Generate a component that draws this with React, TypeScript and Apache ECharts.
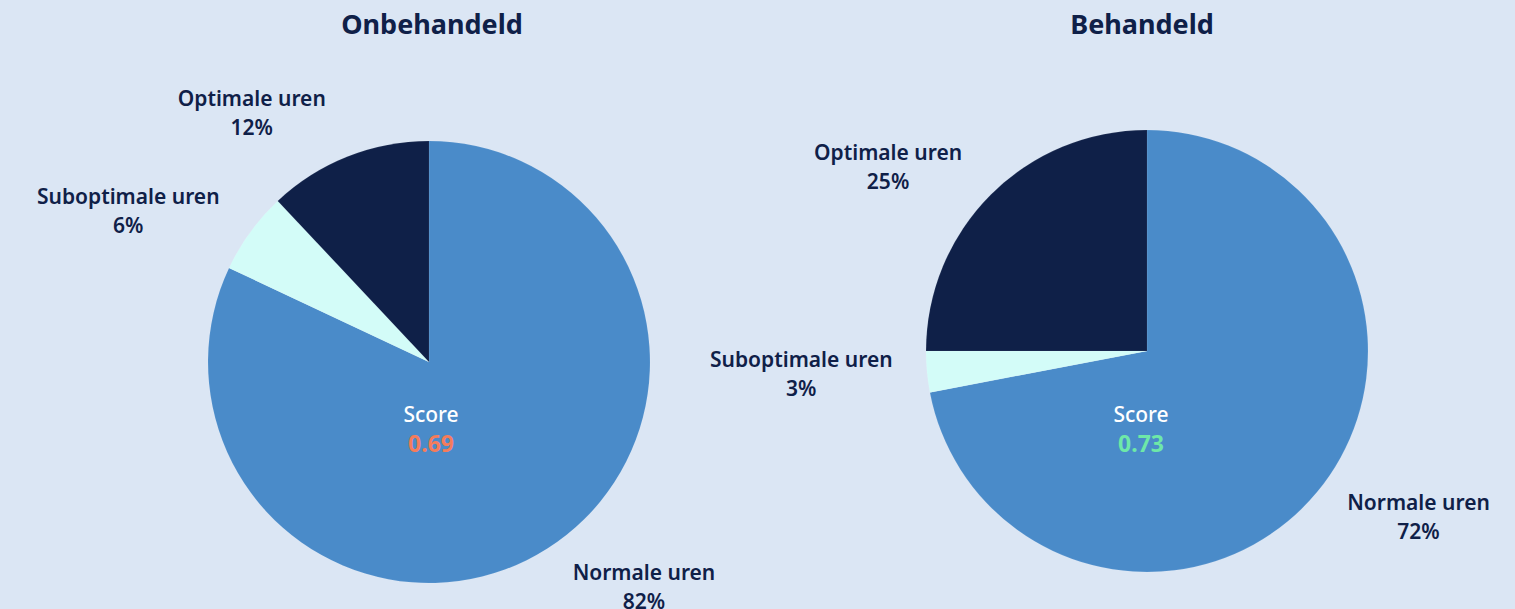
import React, { useEffect, useRef } from "react";
import * as echarts from "echarts";

const categories = ["Normale uren", "Suboptimale uren", "Optimale uren"];
const untreatedValues = [82, 6, 12];
const treatedValues = [72, 3, 25];
const chartTitles = ["Onbehandeld", "Behandeld"];
const scores = ["0.69", "0.73"];

const BG = "#dbe6f4";
const DARK = "#0f2048";
const sliceColors = ["#4a8bc9", "#d3fcf8", "#0f2048"];
const scoreColors = ["#f47c5c", "#6ee8a8"];
const FONT = "'Noto Sans', sans-serif";

const centers: [number, number][] = [
  [429, 362],
  [1147, 351],
];
const domainCentersX = [431, 1141];
const RADIUS = 221;

export default function App() {
  const ref = useRef<HTMLDivElement>(null);
  useEffect(() => {
    if (!ref.current) return;
    const chart = echarts.init(ref.current, undefined, { renderer: "svg" });
    const allValues = [untreatedValues, treatedValues];

    const labelLayout = (params: any) => {
      const s = params.seriesIndex;
      const i = params.dataIndex;
      const vals = allValues[s];
      const total = vals.reduce((a, b) => a + b, 0);
      let cum = 0;
      for (let k = 0; k < i; k++) cum += vals[k];
      const mid = ((cum + vals[i] / 2) / total) * Math.PI * 2;
      const dx = Math.sin(mid);
      const dy = -Math.cos(mid);
      const r = RADIUS + 20;
      const w = params.labelRect.width;
      const h = params.labelRect.height;
      const [cx, cy] = centers[s];
      const x = cx + r * dx + Math.sign(dx) * (w / 2 + h / 4);
      const y = cy + r * dy + Math.sign(dy) * (h / 2) * dy * dy;
      return { x, y, align: "center", verticalAlign: "middle" };
    };

    const makeSeries = (idx: number) => ({
      type: "pie",
      center: centers[idx],
      radius: RADIUS,
      startAngle: 90,
      clockwise: true,
      silent: true,
      avoidLabelOverlap: false,
      data: categories.map((name, k) => ({
        name,
        value: allValues[idx][k],
        itemStyle: { color: sliceColors[k] },
      })),
      itemStyle: { borderColor: "rgba(255,255,255,0.15)", borderWidth: 0.5 },
      label: {
        show: true,
        position: "outside",
        overflow: "none",
        edgeDistance: 0,
        bleedMargin: 0,
        formatter: (p: any) => `${p.name}\n${p.value}%`,
        color: DARK,
        fontFamily: FONT,
        fontSize: 21,
        fontWeight: 600,
        lineHeight: 29,
        align: "center",
      },
      labelLine: { show: false },
      labelLayout,
      emphasis: { disabled: true },
    });

    chart.setOption({
      animation: false,
      backgroundColor: BG,
      title: chartTitles.map((t, idx) => ({
        text: t,
        left: domainCentersX[idx] - 4,
        top: 5,
        textAlign: "center",
        textStyle: { color: DARK, fontFamily: FONT, fontSize: 27, fontWeight: 700 },
      })),
      series: [makeSeries(0), makeSeries(1)],
      graphic: domainCentersX.map((x, idx) => ({
        type: "text",
        x,
        y: 428,
        style: {
          text: `{a|Score}\n{b|${scores[idx]}}`,
          align: "center",
          verticalAlign: "middle",
          rich: {
            a: { fill: "#ffffff", fontFamily: FONT, fontSize: 21, fontWeight: 500, lineHeight: 29, align: "center" },
            b: { fill: scoreColors[idx], fontFamily: FONT, fontSize: 23, fontWeight: 700, lineHeight: 29, align: "center" },
          },
        },
        z: 10,
      })),
    });
    return () => chart.dispose();
  }, []);
  return (
    <div
      ref={ref}
      style={{ position: "fixed", left: 0, top: 0, width: 1515, height: 609 }}
    />
  );
}
